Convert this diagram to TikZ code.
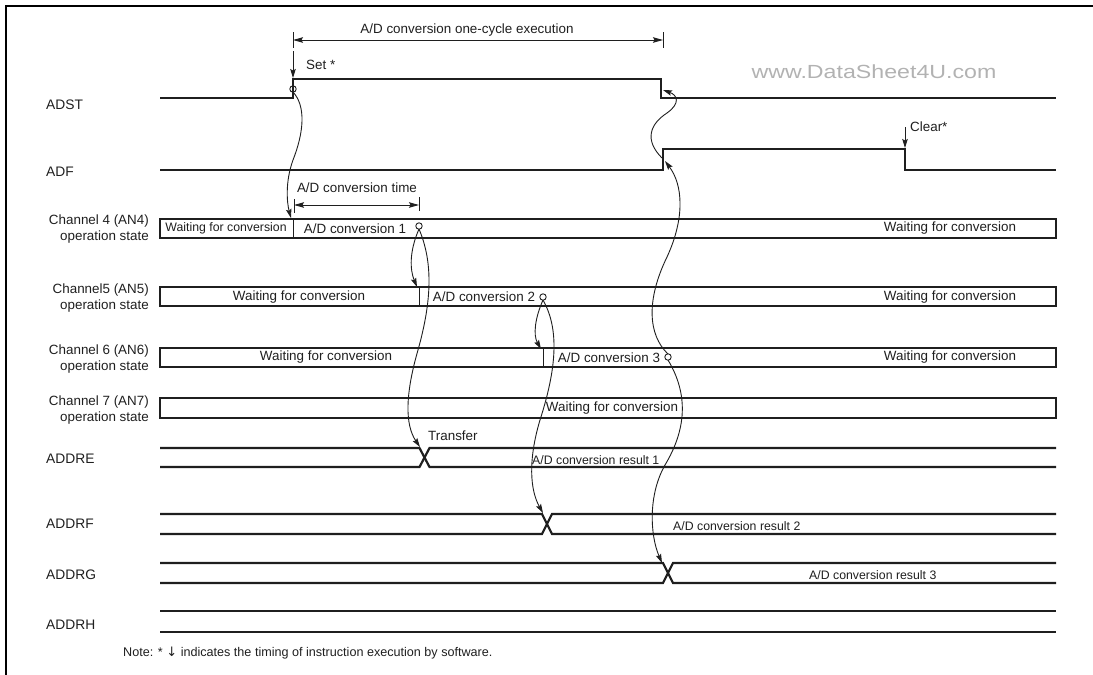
\documentclass[tikz,border=0pt]{standalone}
\usepackage{fontspec}
\setmainfont{Liberation Sans}
\newfontfamily\dejavu{DejaVu Sans}
\usetikzlibrary{arrows.meta}
\begin{document}
\begin{tikzpicture}[x=1pt,y=-1pt,
  sig/.style={line width=2.2pt, line join=miter, color=black!88},
  frame/.style={line width=2.4pt, color=black},
  thinl/.style={line width=0.9pt, color=black!88},
  tip/.style={-{Stealth[length=9pt,width=5.5pt,inset=1.5pt]}},
  curve/.style={thinl, tip},
  dimline/.style={thinl, {Stealth[length=10pt,width=5.5pt,inset=1.5pt]}-{Stealth[length=10pt,width=5.5pt,inset=1.5pt]}},
  ring/.style={thinl},
  txt/.style={font=\fontsize{13.4}{16}\selectfont, inner sep=0pt, text=black!88},
  smtxt/.style={font=\fontsize{12.3}{15}\selectfont, inner sep=0pt, text=black!88},
  chlbl/.style={font=\fontsize{13.4}{16}\selectfont, inner sep=0pt, text=black!88, align=right, anchor=east},
  siglbl/.style={font=\fontsize{13.8}{16}\selectfont, inner sep=0pt, text=black!88, anchor=west}
]
\useasboundingbox (0,0) rectangle (1093,675);
% frame
\draw[frame] (6,675) -- (6,6) -- (1093,6);

% signal labels
\node[siglbl] (lADST) at (46,105) {ADST};
\node[siglbl] (lADF) at (46,172) {ADF};
\node[chlbl] (lch4) at (149,229.5) {Channel 4 (AN4)\\operation state};
\node[chlbl] (lch5) at (149,298) {Channel5 (AN5)\\operation state};
\node[chlbl] (lch6) at (149,359) {Channel 6 (AN6)\\operation state};
\node[chlbl] (lch7) at (149,410) {Channel 7 (AN7)\\operation state};
\node[siglbl] (lE) at (46,459) {ADDRE};
\node[siglbl] (lF) at (46,524) {ADDRF};
\node[siglbl] (lG) at (46,575) {ADDRG};
\node[siglbl] (lH) at (46,625) {ADDRH};

% watermark
\node[font=\fontsize{19}{20}\selectfont, text=black!30, inner sep=0pt] (wm) at (874,72) {\scalebox{1.22}[1]{www.DataSheet4U.com}};

% ADST and ADF
\draw[sig] (160,98) -- (293,98) -- (293,79) -- (661,79) -- (661,98) -- (1056,98);
\draw[sig] (160,170) -- (663,170) -- (663,149) -- (905,149) -- (905,170) -- (1056,170);

% channel bars
\draw[sig] (160,219) rectangle (1056,238);
\draw[sig] (160,287) rectangle (1056,306);
\draw[sig] (160,348) rectangle (1056,367);
\draw[sig] (160,398) rectangle (1056,418);
\draw[thinl] (293,219) -- (293,238);
\draw[thinl] (419,287) -- (419,306);
\draw[thinl] (543,348) -- (543,367);

% bar texts
\node[smtxt] (w4a) at (226,228.5) {Waiting for conversion};
\node[txt] (c1) at (355,228.5) {A/D conversion 1};
\node[txt] (w4b) at (950,228.5) {Waiting for conversion};
\node[txt] (w5a) at (299,297) {Waiting for conversion};
\node[txt] (c2) at (484,297) {A/D conversion 2};
\node[txt] (w5b) at (950,297) {Waiting for conversion};
\node[txt] (w6a) at (326,357.5) {Waiting for conversion};
\node[txt] (c3) at (609,357.5) {A/D conversion 3};
\node[txt] (w6b) at (950,357.5) {Waiting for conversion};
\node[txt] (w7) at (612,408.5) {Waiting for conversion};

% ADDR registers
\draw[sig] (160,448) -- (419.5,448) -- (429.5,467) -- (1056,467);
\draw[sig] (160,467) -- (419.5,467) -- (429.5,448) -- (1056,448);
\draw[sig] (160,514) -- (542,514) -- (552,534) -- (1056,534);
\draw[sig] (160,534) -- (542,534) -- (552,514) -- (1056,514);
\draw[sig] (160,563) -- (663,563) -- (673,583) -- (1056,583);
\draw[sig] (160,583) -- (663,583) -- (673,563) -- (1056,563);
\draw[sig] (160,611) -- (1056,611);
\draw[sig] (160,632) -- (1056,632);

\node[txt, anchor=west] (tr) at (428,436) {Transfer};
\node[smtxt, anchor=west] (r1) at (532,460) {A/D conversion result 1};
\node[smtxt, anchor=west] (r2) at (673,526) {A/D conversion result 2};
\node[smtxt, anchor=west] (r3) at (809,575) {A/D conversion result 3};

% dimension: one-cycle
\draw[thinl] (293,32) -- (293,48);
\draw[thinl] (663,32) -- (663,48);
\coordinate (d1a) at (293,40);
\coordinate (d1b) at (663,40);
\draw[dimline] (d1a) -- (d1b);
\node[txt] (oc) at (467,30) {A/D conversion one-cycle execution};

% Set arrow
\coordinate (setT) at (293,51);
\coordinate (setB) at (293,78);
\draw[thinl, tip] (setT) -- (setB);
\node[txt, anchor=west] (set) at (306,65) {Set *};

% Clear arrow
\coordinate (clT) at (905,127);
\coordinate (clB) at (905,148);
\draw[thinl, tip] (clT) -- (clB);
\node[txt, anchor=west] (clr) at (910,127) {Clear*};

% dimension: conversion time
\draw[thinl] (294,199) -- (294,213);
\draw[thinl] (419,197) -- (419,211);
\coordinate (d2a) at (294,205);
\coordinate (d2b) at (419,205);
\draw[dimline] (d2a) -- (d2b);
\node[txt] (ct) at (357,188) {A/D conversion time};

% rings
\coordinate (o0) at (293,89);
\coordinate (o1) at (419,226);
\coordinate (o2) at (543,297);
\coordinate (o3) at (668,357);
\foreach \p in {o0,o1,o2,o3} \draw[ring] (\p) circle (3.2);

% curved arrows
\draw[curve] (293,92) .. controls (306,106) and (304,132) .. (293,160) .. controls (285,182) and (287,203) .. (291,218);
\draw[curve] (419,229) .. controls (409,252) and (410,270) .. (417,287);
\draw[curve] (419,229) .. controls (433,262) and (432,300) .. (418,350) .. controls (405,395) and (405,425) .. (420,447);
\draw[curve] (543,300) .. controls (535,318) and (533,335) .. (541,349);
\draw[curve] (543,300) .. controls (560,330) and (556,370) .. (540,420) .. controls (528,460) and (530,490) .. (543,513);
\draw[curve] (668,354) .. controls (648,335) and (646,300) .. (667,257) .. controls (685,218) and (683,185) .. (665,161);
\draw[curve] (662,158) .. controls (644,140) and (650,124) .. (667,113) .. controls (681,103) and (677,95) .. (663,90);
\draw[curve] (668,360) .. controls (689,395) and (686,430) .. (665,465) .. controls (648,495) and (650,535) .. (662,563);

% note
\node[font=\fontsize{12.6}{15}\selectfont, inner sep=0pt, text=black!88, anchor=west] (note) at (123,653) {Note: * {\dejavu\fontsize{13}{14}\selectfont ↓} indicates the timing of instruction execution by software.};
\end{tikzpicture}
\end{document}
